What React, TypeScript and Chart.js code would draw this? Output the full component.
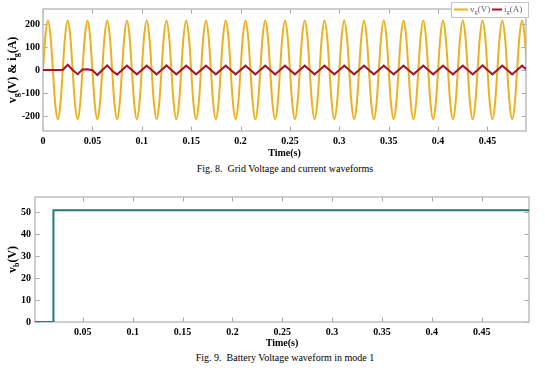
import React, { useEffect, useRef } from "react";
import { Chart, registerables } from "chart.js";
Chart.register(...registerables);

const SERIF = '"Liberation Serif", "Times New Roman", Times, serif';

// ---------------- Fig. 8 : grid voltage & current ----------------
const gridXTicks = [0, 0.05, 0.1, 0.15, 0.2, 0.25, 0.3, 0.35, 0.4, 0.45];
const gridXTickLabels = ["0", "0.05", "0.1", "0.15", "0.2", "0.25", "0.3", "0.35", "0.4", "0.45"];
const gridYTicks = [-200, -100, 0, 100, 200];
const gridYTickLabels = ["-200", "-100", "0", "100", "200"];
const gridXMax = 0.489;
const gridYMin = -265;
const gridYMax = 265;

// grid voltage v_g (V), read every 0.0025 s
const gridVoltageStep = 0.0025;
const gridVoltage = [
  0, 152, 215, 152, 0, -152, -215, -152,
  0, 152, 215, 152, 0, -152, -215, -152,
  0, 152, 215, 152, 0, -152, -215, -152,
  0, 152, 215, 152, 0, -152, -215, -152,
  0, 152, 215, 152, 0, -152, -215, -152,
  0, 152, 215, 152, 0, -152, -215, -152,
  0, 152, 215, 152, 0, -152, -215, -152,
  0, 152, 215, 152, 0, -152, -215, -152,
  0, 152, 215, 152, 0, -152, -215, -152,
  0, 152, 215, 152, 0, -152, -215, -152,
  0, 152, 215, 152, 0, -152, -215, -152,
  0, 152, 215, 152, 0, -152, -215, -152,
  0, 152, 215, 152, 0, -152, -215, -152,
  0, 152, 215, 152, 0, -152, -215, -152,
  0, 152, 215, 152, 0, -152, -215, -152,
  0, 152, 215, 152, 0, -152, -215, -152,
  0, 152, 215, 152, 0, -152, -215, -152,
  0, 152, 215, 152, 0, -152, -215, -152,
  0, 152, 215, 152, 0, -152, -215, -152,
  0, 152, 215, 152, 0, -152, -215, -152,
  0, 152, 215, 152, 0, -152, -215, -152,
  0, 152, 215, 152, 0, -152, -215, -152,
  0, 152, 215, 152, 0, -152, -215, -152,
  0, 152, 215, 152, 0, -152, -215, -152,
  0, 152, 215, 152, 0,
];

// grid current i_g (A), read every 0.005 s
const gridCurrentStep = 0.005;
const gridCurrent = [
  0, 0, 0, 0, 0, 23, 0, -18,
  2, 3, -1, -22, 0, 20, -3, -20,
  0, 19, 0, -19, 0, 19, 0, -19,
  0, 20, 0, -19, 0, 19, 0, -19,
  0, 19, 0, -19, 0, 19, 0, -19,
  0, 19, 0, -19, 0, 19, 0, -19,
  0, 19, 0, -19, 0, 19, 0, -19,
  0, 19, 0, -19, 0, 19, 0, -19,
  0, 19, 0, -19, 0, 19, 0, -19,
  0, 19, 0, -19, 0, 19, 0, -19,
  0, 19, 0, -19, 0, 19, 0, -19,
  0, 20, 0, -19, 0, 19, 0, -19,
  0, 19, 0,
];

// ---------------- Fig. 9 : battery voltage ----------------
const battXTicks = [0.05, 0.1, 0.15, 0.2, 0.25, 0.3, 0.35, 0.4, 0.45];
const battXTickLabels = ["0.05", "0.1", "0.15", "0.2", "0.25", "0.3", "0.35", "0.4", "0.45"];
const battYTicks = [0, 10, 20, 30, 40, 50];
const battYTickLabels = ["0", "10", "20", "30", "40", "50"];
const battXMin = 0.002;
const battXMax = 0.4975;
const battYMax = 57;
const battTimes = [0, 0.0205, 0.0205, 0.5];
const battVoltage = [0, 0, 51, 51];

const ORANGE = "#EDB120";
const RED = "#A2142F";
const TEAL = "#217a78";
const BOX = "#bdbdbd";
const TICK = "#a8a8a8";

type Seg = { t: string; sub?: boolean };

function segWidth(ctx: CanvasRenderingContext2D, segs: Seg[], size: number, sub: number, weight: string) {
  let w = 0;
  for (const s of segs) {
    ctx.font = `${weight} ${s.sub ? sub : size}px ${SERIF}`;
    w += ctx.measureText(s.t).width;
  }
  return w;
}

function drawSegs(ctx: CanvasRenderingContext2D, segs: Seg[], x: number, y: number, size: number, sub: number, weight: string) {
  let cx = x;
  for (const s of segs) {
    ctx.font = `${weight} ${s.sub ? sub : size}px ${SERIF}`;
    ctx.fillText(s.t, cx, s.sub ? y + size * 0.32 : y);
    cx += ctx.measureText(s.t).width;
  }
  return cx;
}

function framePlugin(cfg: { yTitle: Seg[]; yTitleX: number; timeOffset: number; legend?: boolean }) {
  return {
    id: "matlabFrame",
    beforeDatasetsDraw(chart: any) {
      const { ctx, chartArea: a } = chart;
      const xs = chart.scales.x;
      const ys = chart.scales.y;
      ctx.save();
      ctx.lineWidth = 1;
      ctx.strokeStyle = TICK;
      ctx.beginPath();
      for (const t of xs.ticks) {
        const px = Math.round(xs.getPixelForValue(t.value)) + 0.5;
        ctx.moveTo(px, a.bottom);
        ctx.lineTo(px, a.bottom - 4.5);
        ctx.moveTo(px, a.top);
        ctx.lineTo(px, a.top + 4.5);
      }
      for (const t of ys.ticks) {
        const py = Math.round(ys.getPixelForValue(t.value)) + 0.5;
        ctx.moveTo(a.left, py);
        ctx.lineTo(a.left + 4.5, py);
        ctx.moveTo(a.right, py);
        ctx.lineTo(a.right - 4.5, py);
      }
      ctx.stroke();
      ctx.strokeStyle = BOX;
      ctx.lineWidth = 1.5;
      ctx.strokeRect(a.left, a.top, a.right - a.left, a.bottom - a.top);
      ctx.restore();
    },
    afterDraw(chart: any) {
      const { ctx, chartArea: a } = chart;
      ctx.save();
      ctx.fillStyle = "#000";
      ctx.textBaseline = "middle";
      // y title (rotated)
      const w = segWidth(ctx, cfg.yTitle, 12, 8, "bold");
      ctx.translate(cfg.yTitleX, (a.top + a.bottom) / 2);
      ctx.rotate(-Math.PI / 2);
      drawSegs(ctx, cfg.yTitle, -w / 2, 0, 12, 8, "bold");
      ctx.setTransform(1, 0, 0, 1, 0, 0);
      // x title
      ctx.font = `bold 10px ${SERIF}`;
      ctx.textAlign = "center";
      ctx.fillText("Time(s)", (a.left + a.right) / 2, a.bottom + cfg.timeOffset);
      ctx.textAlign = "left";
      // legend
      if (cfg.legend) {
        ctx.fillStyle = "#fff";
        ctx.fillRect(451, 2, 77, 15);
        ctx.strokeStyle = "#c4c4c4";
        ctx.lineWidth = 1;
        ctx.strokeRect(451.5, 2.5, 77, 15);
        const ly = 9.5;
        ctx.lineWidth = 2;
        ctx.strokeStyle = ORANGE;
        ctx.beginPath();
        ctx.moveTo(454, ly);
        ctx.lineTo(468, ly);
        ctx.stroke();
        ctx.fillStyle = "#666";
        drawSegs(ctx, [{ t: "v" }, { t: "g", sub: true }, { t: "(V)" }], 470, ly, 9, 6.5, "normal");
        ctx.strokeStyle = RED;
        ctx.beginPath();
        ctx.moveTo(492, ly);
        ctx.lineTo(502, ly);
        ctx.stroke();
        ctx.fillStyle = "#666";
        drawSegs(ctx, [{ t: "i" }, { t: "g", sub: true }, { t: "(A)" }], 504, ly, 9, 6.5, "normal");
      }
      ctx.restore();
    },
  };
}

function axisX(min: number, max: number, ticks: number[], labels: string[], height: number, pad: number) {
  return {
    type: "linear" as const,
    min,
    max,
    grid: { display: false, drawTicks: false, tickLength: 0 },
    border: { display: false },
    afterBuildTicks: (s: any) => {
      s.ticks = ticks.map((v) => ({ value: v }));
    },
    afterFit: (s: any) => {
      s.height = height;
    },
    ticks: {
      autoSkip: false,
      maxRotation: 0,
      padding: pad,
      color: "#000",
      font: { family: SERIF, size: 10, weight: "bold" as const },
      callback: (_v: any, i: number) => labels[i],
    },
  };
}

function axisY(min: number, max: number, ticks: number[], labels: string[], width: number, pad: number) {
  return {
    type: "linear" as const,
    min,
    max,
    grid: { display: false, drawTicks: false, tickLength: 0 },
    border: { display: false },
    afterBuildTicks: (s: any) => {
      s.ticks = ticks.map((v) => ({ value: v }));
    },
    afterFit: (s: any) => {
      s.width = width;
    },
    ticks: {
      autoSkip: false,
      padding: pad,
      color: "#000",
      font: { family: SERIF, size: 10, weight: "bold" as const },
      callback: (_v: any, i: number) => labels[i],
    },
  };
}

export default function App() {
  const ref1 = useRef<HTMLCanvasElement>(null);
  const ref2 = useRef<HTMLCanvasElement>(null);

  useEffect(() => {
    const voltagePts = gridVoltage.map((v, i) => ({ x: i * gridVoltageStep, y: v }));
    const currentPts = gridCurrent.map((v, i) => ({ x: i * gridCurrentStep, y: v }));
    const c1 = new Chart(ref1.current!, {
      type: "line",
      data: {
        datasets: [
          { label: "i_g(A)", data: currentPts, borderColor: RED, borderWidth: 2, pointRadius: 0, tension: 0, fill: false },
          { label: "v_g(V)", data: voltagePts, borderColor: ORANGE, borderWidth: 2, pointRadius: 0, tension: 0.35, fill: false },
        ],
      },
      options: {
        animation: false,
        responsive: false,
        maintainAspectRatio: false,
        layout: { padding: { top: 5, right: 19, left: 0, bottom: 0 } },
        plugins: { legend: { display: false }, tooltip: { enabled: false } },
        scales: {
          x: axisX(0, gridXMax, gridXTicks, gridXTickLabels, 29, 4),
          y: axisY(gridYMin, gridYMax, gridYTicks, gridYTickLabels, 43, 3),
        },
      } as any,
      plugins: [framePlugin({ yTitle: [{ t: "v" }, { t: "g", sub: true }, { t: "(V) & i" }, { t: "g", sub: true }, { t: "(A)" }], yTitleX: 13, timeOffset: 22, legend: true })],
    });

    const battPts = battTimes.map((t, i) => ({ x: t, y: battVoltage[i] }));
    const c2 = new Chart(ref2.current!, {
      type: "line",
      data: {
        datasets: [
          { label: "v_b(V)", data: battPts, borderColor: TEAL, borderWidth: 2, pointRadius: 0, tension: 0, fill: false },
        ],
      },
      options: {
        animation: false,
        responsive: false,
        maintainAspectRatio: false,
        layout: { padding: { top: 22, right: 16, left: 0, bottom: 0 } },
        plugins: { legend: { display: false }, tooltip: { enabled: false } },
        scales: {
          x: axisX(battXMin, battXMax, battXTicks, battXTickLabels, 29, 4),
          y: axisY(0, battYMax, battYTicks, battYTickLabels, 35, 4),
        },
      } as any,
      plugins: [framePlugin({ yTitle: [{ t: "v" }, { t: "b", sub: true }, { t: "(V)" }], yTitleX: 13, timeOffset: 21 })],
    });
    return () => {
      c1.destroy();
      c2.destroy();
    };
  }, []);

  const caption: React.CSSProperties = {
    position: "absolute",
    left: 0,
    width: 570,
    textAlign: "center",
    fontFamily: SERIF,
    fontSize: 10,
    lineHeight: "12px",
    whiteSpace: "pre",
    color: "#000",
  };

  return (
    <div style={{ position: "absolute", left: 0, top: 0, width: 545, height: 375, background: "#fff", overflow: "hidden" }}>
      <canvas ref={ref1} width={545} height={160} style={{ position: "absolute", left: 0, top: 0 }} />
      <div style={{ ...caption, top: 163 }}>{"Fig. 8.  Grid Voltage and current waveforms"}</div>
      <canvas ref={ref2} width={545} height={176} style={{ position: "absolute", left: 0, top: 175 }} />
      <div style={{ ...caption, top: 352 }}>{"Fig. 9.  Battery Voltage waveform in mode 1"}</div>
    </div>
  );
}
